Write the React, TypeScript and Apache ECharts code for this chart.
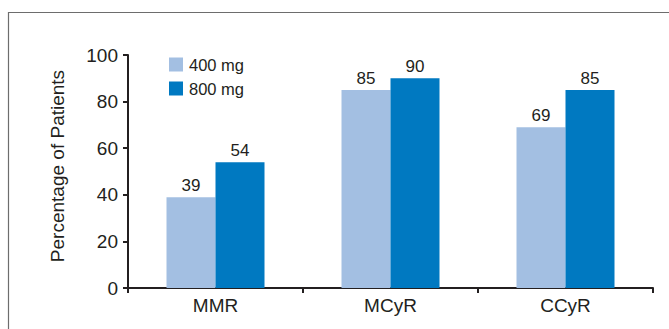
import React, { useEffect, useRef } from "react";
import * as echarts from "echarts";

const categories = ["MMR", "MCyR", "CCyR"];
const series400 = [39, 85, 69];
const series800 = [54, 90, 85];
const seriesNames = ["400 mg", "800 mg"];
const yTitle = "Percentage of Patients";
const yTicks = { min: 0, max: 100, interval: 20 };

export default function App() {
  const ref = useRef<HTMLDivElement>(null);
  useEffect(() => {
    if (!ref.current) return;
    const chart = echarts.init(ref.current, null, { renderer: "svg" });
    const textColor = "#231f20";
    const font = "Liberation Sans, Arial, Helvetica, sans-serif";
    const labelCfg = {
      show: true,
      position: "top",
      distance: 3,
      color: textColor,
      fontSize: 17,
      fontFamily: font,
    };
    chart.setOption({
      animation: false,
      backgroundColor: "#ffffff",
      textStyle: { fontFamily: font },
      graphic: [
        {
          type: "rect",
          shape: { x: 8.5, y: 12.5, width: 720, height: 400 },
          style: { fill: "none", stroke: "#6d6d6d", lineWidth: 1.2 },
          silent: true,
        },
        {
          type: "text",
          x: 57,
          y: 166,
          rotation: Math.PI / 2,
          style: {
            text: yTitle,
            fill: textColor,
            fontSize: 19,
            fontFamily: font,
            align: "center",
            verticalAlign: "middle",
          },
          silent: true,
        },
      ],
      grid: { left: 128, right: 16, top: 55, bottom: 41, containLabel: false },
      legend: {
        orient: "vertical",
        left: 169,
        top: 56,
        padding: 0,
        itemWidth: 14,
        itemHeight: 14,
        itemGap: 7,
        icon: "rect",
        textStyle: { color: textColor, fontSize: 16.5, lineHeight: 15, fontFamily: font, padding: [0, 0, 0, 1] },
        data: seriesNames,
      },
      xAxis: {
        type: "category",
        data: categories,
        axisLine: { show: true, lineStyle: { color: textColor, width: 2 } },
        axisTick: { show: true, length: 5, lineStyle: { color: textColor, width: 2 } },
        axisLabel: { color: textColor, fontSize: 19, margin: 8, fontFamily: font },
      },
      yAxis: {
        type: "value",
        min: yTicks.min,
        max: yTicks.max,
        interval: yTicks.interval,
        splitLine: { show: false },
        axisLine: { show: true, lineStyle: { color: textColor, width: 2 } },
        axisTick: { show: true, length: 5, lineStyle: { color: textColor, width: 2 } },
        axisLabel: { color: textColor, fontSize: 19, margin: 10, fontFamily: font },
      },
      series: [
        {
          name: seriesNames[0],
          type: "bar",
          data: series400,
          barGap: "0%",
          barCategoryGap: "44%",
          itemStyle: { color: "#a3bfe2" },
          label: labelCfg,
        },
        {
          name: seriesNames[1],
          type: "bar",
          data: series800,
          barGap: "0%",
          barCategoryGap: "44%",
          itemStyle: { color: "#0079c1" },
          label: labelCfg,
        },
      ],
    });
    return () => chart.dispose();
  }, []);
  return <div ref={ref} style={{ width: 669, height: 329, position: "fixed", left: 0, top: 0 }} />;
}
